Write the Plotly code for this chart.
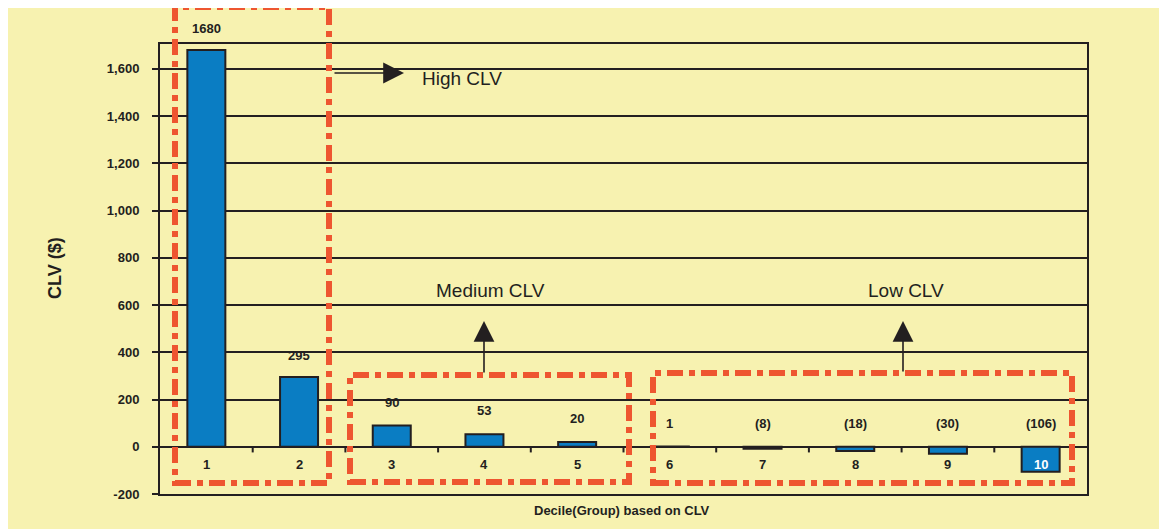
import plotly.graph_objects as go

# ---- data ----
deciles = [1, 2, 3, 4, 5, 6, 7, 8, 9, 10]
decile_labels = ["1", "2", "3", "4", "5", "6", "7", "8", "9", "10"]
clv = [1680, 295, 90, 53, 20, 1, -8, -18, -30, -106]
ytick_vals = [-200, 0, 200, 400, 600, 800, 1000, 1200, 1400, 1600]
ytick_text = ["-200", "0", "200", "400", "600", "800", "1,000", "1,200", "1,400", "1,600"]
group_names = ["High CLV", "Medium CLV", "Low CLV"]

# ---- layout constants ----
W, H = 1167, 529
OFF = 8  # page body margin offset in the screenshot
# plot area in screenshot pixels: left 160, right 1087, top 44, bottom 494
ML = 160 - OFF
MT = 44 - OFF
MR = W - (1087 - OFF)
MB = H - (494 - OFF)
XR = [0.5, 10.5]
YR = [-200, 1705]
INK = "#231f20"
RED = "#ee5630"
BG = "#f7f2b0"
FONT = "Arial, Liberation Sans, sans-serif"


def pxx(p):  # screenshot pixel -> paper
    return (p - OFF - ML) / (W - ML - MR)


def pxy(p):
    return (H - MB - (p - OFF)) / (H - MT - MB)


fig = go.Figure()
fig.add_trace(go.Bar(
    x=deciles, y=clv, width=0.41,
    marker=dict(color="#0a7dc3", line=dict(color=INK, width=2)),
    hoverinfo="x+y",
))

annotations = []
# value labels
for d, v in zip(deciles, clv):
    txt = f"({abs(v)})" if v < 0 else str(v)
    annotations.append(dict(x=d, y=max(v, 0), xref="x", yref="y", text=txt,
                            showarrow=False, xanchor="center", yanchor="bottom",
                            yshift=12 if v > 100 else 14,
                            font=dict(family=FONT, size=13, color=INK, weight="bold")))
# category labels (inside plot, below zero)
for d, lab in zip(deciles, decile_labels):
    annotations.append(dict(x=d, y=-76, xref="x", yref="y", text=lab, showarrow=False,
                            xanchor="center", yanchor="middle",
                            font=dict(family=FONT, size=13,
                                      color="white" if d == 10 else INK, weight="bold")))
# axis titles
annotations.append(dict(x=pxx(55), y=pxy(268), xref="paper", yref="paper", text="CLV ($)",
                        textangle=-90, showarrow=False, xanchor="center", yanchor="middle",
                        font=dict(family=FONT, size=18, color=INK, weight="bold")))
annotations.append(dict(x=pxx(622), y=pxy(510), xref="paper", yref="paper",
                        text="Decile(Group) based on CLV", showarrow=False,
                        xanchor="center", yanchor="middle",
                        font=dict(family=FONT, size=13, color=INK, weight="bold")))
# group labels with arrows
for name, (cx, cy) in zip(group_names, [(462, 79), (490, 290), (906, 290)]):
    annotations.append(dict(x=pxx(cx), y=pxy(cy), xref="paper", yref="paper", text=name,
                            showarrow=False, xanchor="center", yanchor="middle",
                            font=dict(family=FONT, size=19, color=INK)))
for tip, off in [((404, 73), (-71, 0)), ((484, 321), (0, 53)), ((903, 321), (0, 52))]:
    annotations.append(dict(x=pxx(tip[0]), y=pxy(tip[1]), xref="paper", yref="paper",
                            ax=off[0], ay=off[1], text="", showarrow=True,
                            arrowhead=2, arrowsize=2.6, arrowwidth=1.6, arrowcolor=INK))

shapes = []
# tick marks at category boundaries on the zero line
for b in [1.5, 2.5, 3.5, 4.5, 5.5, 6.5, 7.5, 8.5, 9.5]:
    shapes.append(dict(type="line", xref="x", yref="y", x0=b, x1=b, y0=0, y1=-24,
                       line=dict(color=INK, width=2)))
# dashed group boxes (screenshot pixel boxes)
boxes = [(175, 329, 7, 483), (350, 629, 375, 482), (653, 1072, 373, 483)]
for x0, x1, y0, y1 in boxes:
    shapes.append(dict(type="rect", xref="paper", yref="paper",
                       x0=pxx(x0), x1=pxx(x1), y0=pxy(y1), y1=pxy(y0),
                       line=dict(color=RED, width=6, dash="16px,6px,6px,6px"),
                       fillcolor="rgba(0,0,0,0)", layer="above"))

fig.update_layout(
    width=W, height=H,
    margin=dict(l=ML, r=MR, t=MT, b=MB),
    paper_bgcolor=BG, plot_bgcolor=BG,
    showlegend=False,
    annotations=annotations,
    shapes=shapes,
    xaxis=dict(range=XR, showticklabels=False, ticks="", showgrid=False, zeroline=False,
               showline=True, linecolor=INK, linewidth=2, mirror=True, fixedrange=True),
    yaxis=dict(range=YR, tickvals=ytick_vals, ticktext=ytick_text, ticks="outside",
               ticklen=6, tickwidth=2, tickcolor=INK,
               tickfont=dict(family=FONT, size=13, color=INK, weight="bold"),
               showgrid=True, gridcolor=INK, gridwidth=1.6,
               zeroline=True, zerolinecolor=INK, zerolinewidth=2,
               showline=True, linecolor=INK, linewidth=2, mirror=True, ticklabelstandoff=10,
               fixedrange=True),
)

fig.write_html("out.html")
